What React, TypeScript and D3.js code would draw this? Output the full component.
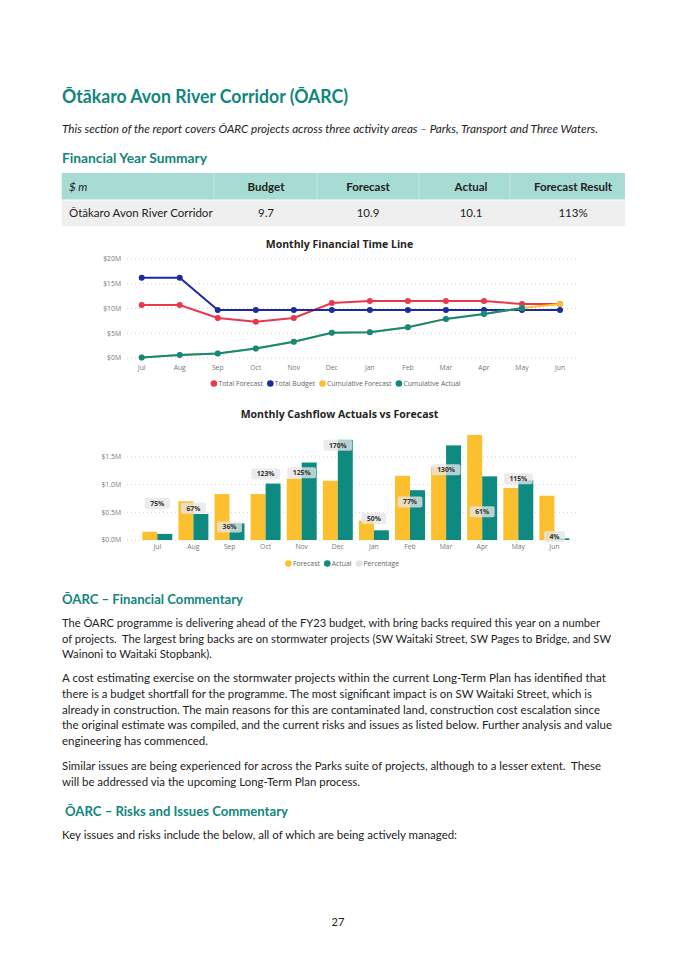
import { useEffect, useRef } from 'react'
import * as d3 from 'd3'

// ---- data ----
const months = ['Jul', 'Aug', 'Sep', 'Oct', 'Nov', 'Dec', 'Jan', 'Feb', 'Mar', 'Apr', 'May', 'Jun']

// Monthly Financial Time Line, $M
const totalForecast = [10.7, 10.7, 8.1, 7.3, 8.1, 11.1, 11.5, 11.5, 11.5, 11.5, 10.9, 10.9]
const totalBudget = [16.2, 16.2, 9.7, 9.7, 9.7, 9.7, 9.7, 9.7, 9.7, 9.7, 9.7, 9.7]
const cumulativeForecast = [0.1, 0.6, 0.9, 1.9, 3.3, 5.1, 5.2, 6.2, 7.9, 8.9, 10.1, 10.9]
const cumulativeActual: (number | null)[] = [0.1, 0.6, 0.9, 1.9, 3.3, 5.1, 5.2, 6.2, 7.9, 8.9, 10.1, null]
const lineTicks = [0, 5, 10, 15, 20]

// Monthly Cashflow Actuals vs Forecast, $M
const cashForecast = [0.15, 0.7, 0.83, 0.83, 1.11, 1.07, 0.35, 1.16, 1.32, 1.9, 0.94, 0.8]
const cashActual = [0.11, 0.47, 0.3, 1.02, 1.4, 1.81, 0.175, 0.9, 1.71, 1.15, 1.08, 0.03]
const cashPercent = [75, 67, 36, 123, 125, 170, 50, 77, 130, 61, 115, 4]
const barTicks = [0, 0.5, 1.0, 1.5]

// Financial Year Summary table
const tableHeader = ['$ m', 'Budget', 'Forecast', 'Actual', 'Forecast Result']
const tableRow = ['Ōtākaro Avon River Corridor', '9.7', '10.9', '10.1', '113%']

const RED = '#e8394c'
const BLUE = '#1c2a9c'
const YELLOW = '#fcbf2d'
const TEAL = '#0e8a80'
const GREY_DOT = '#e3e3e3'
const HEAD = '#12857c'

const DOC_FONT = 'Lato, "Open Sans", sans-serif'
const CHART_FONT = '"Open Sans", "Noto Sans", sans-serif'

// page text: [text, x, baseline, width]
const paraLines: [string, number, number, number][] = [
  ['The ŌARC programme is delivering ahead of the FY23 budget, with bring backs required this year on a number', 62, 627, 538],
  ['of projects.  The largest bring backs are on stormwater projects (SW Waitaki Street, SW Pages to Bridge, and SW', 62, 643, 549],
  ['Wainoni to Waitaki Stopbank).', 62, 658, 150],
  ['A cost estimating exercise on the stormwater projects within the current Long-Term Plan has identified that', 62, 682, 544],
  ['there is a budget shortfall for the programme. The most significant impact is on SW Waitaki Street, which is', 62, 698, 530],
  ['already in construction. The main reasons for this are contaminated land, construction cost escalation since', 62, 714, 538],
  ['the original estimate was compiled, and the current risks and issues as listed below. Further analysis and value', 62, 729, 550],
  ['engineering has commenced.', 62, 745, 146],
  ['Similar issues are being experienced for across the Parks suite of projects, although to a lesser extent.  These', 62, 770, 539],
  ['will be addressed via the upcoming Long-Term Plan process.', 62, 786, 298],
  ['Key issues and risks include the below, all of which are being actively managed:', 62, 839, 395],
]

type Sel = d3.Selection<SVGGElement, unknown, null, undefined>

function legend(g: Sel, items: { name: string; color: string }[], cx: number, cy: number) {
  const lg = g.append('g')
  let cursor = 0
  items.forEach((it) => {
    lg.append('circle').attr('cx', cursor + 3.5).attr('cy', cy).attr('r', 3.3).attr('fill', it.color)
    const t = lg
      .append('text')
      .attr('x', cursor + 8)
      .attr('y', cy)
      .attr('dy', '0.35em')
      .attr('font-size', 6.8)
      .attr('fill', '#666')
      .text(it.name)
    cursor += 8 + (t.node() as SVGTextElement).getComputedTextLength() + 4
  })
  lg.attr('transform', `translate(${cx - cursor / 2},0)`)
}

function drawLine(g: Sel) {
  g.selectAll('*').remove()
  g.attr('font-family', CHART_FONT)
  const x = d3.scalePoint<string>().domain(months).range([141.7, 560])
  const y = d3.scaleLinear().domain([0, 20]).range([358, 259])

  g.append('text')
    .attr('x', 339.5).attr('y', 248)
    .attr('text-anchor', 'middle').attr('font-size', 10.5).attr('font-weight', 700).attr('fill', '#252423')
    .text('Monthly Financial Time Line')

  g.append('g').selectAll('line').data(lineTicks).join('line')
    .attr('x1', 127).attr('x2', 576)
    .attr('y1', (d) => y(d)).attr('y2', (d) => y(d))
    .attr('stroke', '#c8c8c8').attr('stroke-width', 0.8).attr('stroke-dasharray', '1 3')

  g.append('g').selectAll('text').data(lineTicks).join('text')
    .attr('x', 121).attr('y', (d) => y(d)).attr('dy', '0.35em')
    .attr('text-anchor', 'end').attr('font-size', 6.8).attr('fill', '#777')
    .text((d) => `$${d}M`)

  g.append('g').selectAll('text').data(months).join('text')
    .attr('x', (d) => x(d)!).attr('y', 368).attr('dy', '0.35em')
    .attr('text-anchor', 'middle').attr('font-size', 6.8).attr('fill', '#777')
    .text((d) => d)

  const series = [
    { name: 'Total Forecast', values: totalForecast as (number | null)[], color: RED },
    { name: 'Total Budget', values: totalBudget as (number | null)[], color: BLUE },
    { name: 'Cumulative Forecast', values: cumulativeForecast as (number | null)[], color: YELLOW },
    { name: 'Cumulative Actual', values: cumulativeActual, color: TEAL },
  ]
  const line = d3
    .line<number | null>()
    .defined((d) => d != null)
    .x((_, i) => x(months[i])!)
    .y((d) => y(d as number))

  series.forEach((s) => {
    const sg = g.append('g')
    sg.append('path').attr('d', line(s.values)).attr('fill', 'none').attr('stroke', s.color).attr('stroke-width', 2)
    sg.selectAll('circle')
      .data(s.values.map((v, i) => ({ v, m: months[i] })).filter((d) => d.v != null))
      .join('circle')
      .attr('cx', (d) => x(d.m)!).attr('cy', (d) => y(d.v as number)).attr('r', 3)
      .attr('fill', s.color)
  })

  legend(g, series, 337.5, 383.5)
}

function drawBars(g: Sel) {
  g.selectAll('*').remove()
  g.attr('font-family', CHART_FONT)
  const x = d3.scaleBand<string>().domain(months).range([139.25, 572.45]).paddingInner(0.17).paddingOuter(0.085)
  const y = d3.scaleLinear().domain([0, 1.5]).range([540, 457])
  const yPct = d3.scaleLinear().domain([0, 200]).range([549, 427])
  const half = x.bandwidth() / 2

  g.append('text')
    .attr('x', 339.5).attr('y', 418)
    .attr('text-anchor', 'middle').attr('font-size', 10.5).attr('font-weight', 700).attr('fill', '#252423')
    .text('Monthly Cashflow Actuals vs Forecast')

  g.append('g').selectAll('line').data(barTicks).join('line')
    .attr('x1', 127).attr('x2', 577)
    .attr('y1', (d) => y(d)).attr('y2', (d) => y(d))
    .attr('stroke', '#c8c8c8').attr('stroke-width', 0.8).attr('stroke-dasharray', '1 3')

  g.append('g').selectAll('text').data(barTicks).join('text')
    .attr('x', 121).attr('y', (d) => y(d)).attr('dy', '0.35em')
    .attr('text-anchor', 'end').attr('font-size', 6.8).attr('fill', '#777')
    .text((d) => `$${d.toFixed(1)}M`)

  g.append('g').selectAll('text').data(months).join('text')
    .attr('x', (d) => x(d)! + half).attr('y', 547).attr('dy', '0.35em')
    .attr('text-anchor', 'middle').attr('font-size', 6.8).attr('fill', '#777')
    .text((d) => d)

  g.append('g').selectAll('rect').data(cashForecast).join('rect')
    .attr('x', (_, i) => x(months[i])!).attr('width', half)
    .attr('y', (d) => y(d)).attr('height', (d) => y(0) - y(d))
    .attr('fill', YELLOW)

  g.append('g').selectAll('rect').data(cashActual).join('rect')
    .attr('x', (_, i) => x(months[i])! + half).attr('width', half)
    .attr('y', (d) => y(d)).attr('height', (d) => y(0) - y(d))
    .attr('fill', TEAL)

  const lbl = g.append('g')
  cashPercent.forEach((p, i) => {
    const cx = x(months[i])! + half
    const cy = Math.min(yPct(p), 536.5)
    const bg = lbl.append('rect')
    const t = lbl.append('text')
      .attr('x', cx).attr('y', cy).attr('dy', '0.35em')
      .attr('text-anchor', 'middle').attr('font-size', 6.8).attr('font-weight', 700).attr('fill', '#333')
      .text(`${p}%`)
    const w = (t.node() as SVGTextElement).getComputedTextLength() + 11
    bg.attr('x', cx - w / 2).attr('y', cy - 5.5).attr('width', w).attr('height', 11).attr('rx', 2)
      .attr('fill', '#e6e6e6').attr('fill-opacity', 0.78)
  })

  legend(
    g,
    [
      { name: 'Forecast', color: YELLOW },
      { name: 'Actual', color: TEAL },
      { name: 'Percentage', color: GREY_DOT },
    ],
    344,
    563.5,
  )
}

export default function App() {
  const lineRef = useRef<SVGGElement | null>(null)
  const barRef = useRef<SVGGElement | null>(null)

  useEffect(() => {
    if (lineRef.current) drawLine(d3.select(lineRef.current))
    if (barRef.current) drawBars(d3.select(barRef.current))
  }, [])

  const colX = [61.7, 214, 317, 419, 510, 625]
  const colCenter = [0, 266, 368, 471, 573]
  const pre = { whiteSpace: 'pre' as const }

  return (
    <div style={{ position: 'absolute', left: 0, top: 0, width: 675, height: 955, background: '#fff' }}>
      <svg width={675} height={955} style={{ display: 'block' }} fontFamily={DOC_FONT}>
        <text x={62} y={103} fontSize={19} fontWeight={700} fill={HEAD} textLength={286} lengthAdjust="spacingAndGlyphs">
          Ōtākaro Avon River Corridor (ŌARC)
        </text>
        <text x={62} y={133} fontSize={11} fontStyle="italic" fill="#222" textLength={536} lengthAdjust="spacingAndGlyphs">
          This section of the report covers ŌARC projects across three activity areas – Parks, Transport and Three Waters.
        </text>
        <text x={62} y={163} fontSize={13} fontWeight={700} fill={HEAD} textLength={145} lengthAdjust="spacingAndGlyphs">
          Financial Year Summary
        </text>

        {/* summary table */}
        <rect x={colX[0]} y={173} width={colX[5] - colX[0]} height={27} fill="#a7dcd4" />
        <rect x={colX[0]} y={200} width={colX[5] - colX[0]} height={26} fill="#efefef" />
        <line x1={colX[0]} x2={colX[5]} y1={200} y2={200} stroke="#fff" strokeWidth={1} />
        {colX.slice(1, 5).map((cx) => (
          <line key={cx} x1={cx} x2={cx} y1={173} y2={200} stroke="#fff" strokeOpacity={0.35} />
        ))}
        {tableHeader.map((h, i) => (
          <text
            key={h}
            x={i === 0 ? 69 : colCenter[i]}
            y={191}
            textAnchor={i === 0 ? 'start' : 'middle'}
            fontSize={11.5}
            fontStyle={i === 0 ? 'italic' : 'normal'}
            fontWeight={i === 0 ? 400 : 700}
            fill="#222"
          >
            {h}
          </text>
        ))}
        {tableRow.map((v, i) => (
          <text key={i} x={i === 0 ? 69 : colCenter[i]} y={217} textAnchor={i === 0 ? 'start' : 'middle'} fontSize={11.5} fill="#222">
            {v}
          </text>
        ))}

        <g ref={lineRef} />
        <g ref={barRef} />

        <text x={62} y={604} fontSize={13} fontWeight={700} fill={HEAD} textLength={181} lengthAdjust="spacingAndGlyphs">
          ŌARC – Financial Commentary
        </text>
        {paraLines.map(([t, x, y, w], i) => (
          <text key={i} x={x} y={y} fontSize={11.5} fill="#222" textLength={w} lengthAdjust="spacingAndGlyphs" style={pre} xmlSpace="preserve">
            {t}
          </text>
        ))}
        <text x={65} y={816} fontSize={13} fontWeight={700} fill={HEAD} textLength={223} lengthAdjust="spacingAndGlyphs">
          ŌARC – Risks and Issues Commentary
        </text>
        <text x={338} y={926} fontSize={11} textAnchor="middle" fill="#222">
          27
        </text>
      </svg>
    </div>
  )
}
